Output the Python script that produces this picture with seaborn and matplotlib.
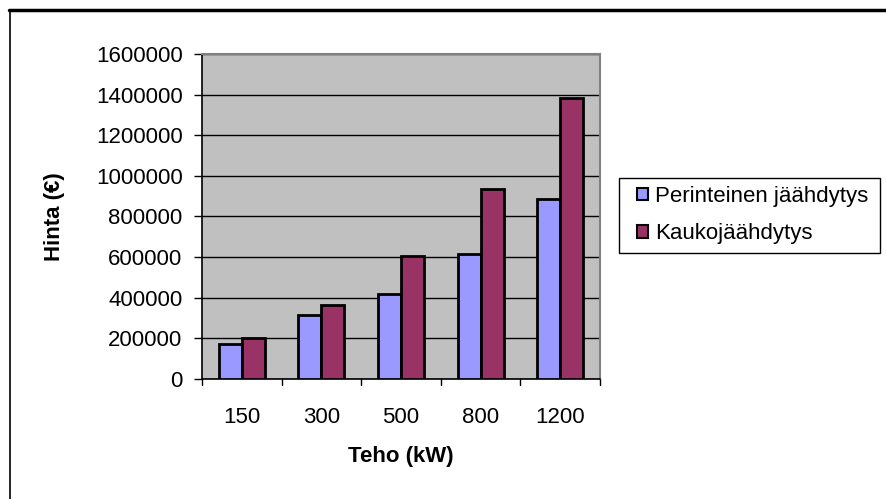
import matplotlib
matplotlib.use("Agg")
import matplotlib.pyplot as plt
import seaborn as sns
import pandas as pd
from matplotlib.lines import Line2D
from matplotlib.patches import Rectangle

# Cost of cooling by capacity
tehot = ["150", "300", "500", "800", "1200"]
perinteinen = [172000, 315000, 418000, 615000, 886000]
kauko = [203000, 364000, 606000, 937000, 1385000]
sarjat = ["Perinteinen jäähdytys", "Kaukojäähdytys"]
y_ticks = [0, 200000, 400000, 600000, 800000, 1000000, 1200000, 1400000, 1600000]

df = pd.DataFrame({
    "Teho": tehot * 2,
    "Hinta": perinteinen + kauko,
    "Sarja": [sarjat[0]] * len(tehot) + [sarjat[1]] * len(tehot),
})

sns.set_theme(style="white")
plt.rcParams["font.family"] = ["Liberation Sans", "DejaVu Sans"]
plt.rcParams["text.color"] = "black"
plt.rcParams["axes.labelcolor"] = "black"
plt.rcParams["xtick.color"] = "black"
plt.rcParams["ytick.color"] = "black"

FS = 16
W, H = 887, 499

fig = plt.figure(figsize=(8.87, 4.99), dpi=100)
ax = fig.add_axes([202 / W, 1 - 379 / H, 398 / W, 325 / H])
ax.set_facecolor("#C0C0C0")

sns.barplot(data=df, x="Teho", y="Hinta", hue="Sarja", order=tehot,
            hue_order=sarjat, palette=["#9999FF", "#993366"],
            width=0.58, gap=0, edgecolor="black", linewidth=2,
            saturation=1, ax=ax, zorder=3)

ax.set_ylim(0, 1600000)
ax.set_xlim(-0.5, len(tehot) - 0.5)
ax.set_yticks(y_ticks)
ax.set_yticklabels([str(v) for v in y_ticks], fontsize=FS)
ax.yaxis.grid(True, color="black", linewidth=1)
ax.set_axisbelow(True)

# category ticks sit on the boundaries between groups
ax.set_xticks([i for i in range(len(tehot))])
ax.set_xticklabels(tehot, fontsize=FS)
ax.tick_params(axis="x", length=0, pad=20)
for b in [i - 0.5 for i in range(len(tehot) + 1)]:
    ax.plot([b, b], [0, -0.018], transform=ax.get_xaxis_transform(),
            color="black", linewidth=1, clip_on=False)
ax.tick_params(axis="y", length=6, width=1, color="black", left=True, pad=8)

for side in ["top", "right"]:
    ax.spines[side].set_color("#808080")
    ax.spines[side].set_linewidth(1.5)
ax.spines["bottom"].set_color("black")
ax.spines["bottom"].set_linewidth(1.2)
ax.spines["left"].set_color("black")
ax.spines["left"].set_linewidth(1.2)

ax.set_xlabel("Teho (kW)", fontsize=FS, fontweight="bold", labelpad=13)
ax.set_ylabel("Hinta (€)", fontsize=FS, fontweight="bold", labelpad=22)

# legend box on the right of the plot area
fig.add_artist(Rectangle((619 / W, 1 - 253 / H), 261 / W, 75 / H,
                         transform=fig.transFigure, facecolor="white",
                         edgecolor="black", linewidth=1))
handles, labels = ax.get_legend_handles_labels()
ax.get_legend().remove()
leg = fig.legend(handles, labels, loc="upper left",
                 bbox_to_anchor=(637 / W, 1 - 186 / H),
                 fontsize=FS, frameon=False,
                 handlelength=0.5, handleheight=0.5, handletextpad=0.32,
                 labelspacing=0.73, borderpad=0, borderaxespad=0)
for h in leg.legend_handles:
    h.set_linewidth(1.5)
    h.set_edgecolor("black")

# chart frame
fig.add_artist(Line2D([9 / W, 1], [1 - 10 / H, 1 - 10 / H],
                      color="black", linewidth=2.5, transform=fig.transFigure))
fig.add_artist(Line2D([10 / W, 10 / W], [0, 1 - 10 / H],
                      color="black", linewidth=1.2, transform=fig.transFigure))

fig.savefig("out.png", dpi=100, facecolor="white")
